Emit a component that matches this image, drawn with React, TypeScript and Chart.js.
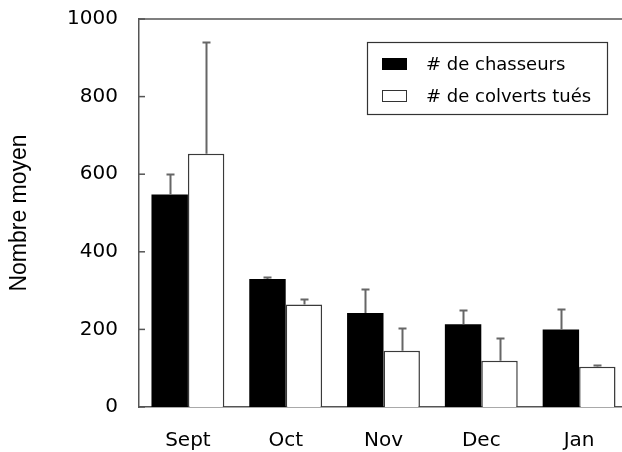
import React, { useEffect, useRef } from "react";
import { Chart, registerables } from "chart.js";

Chart.register(...registerables);

const categories = ["Sept", "Oct", "Nov", "Dec", "Jan"];
const chasseurs = [548, 330, 242, 213, 200];
const chasseursErr = [52, 6, 61, 36, 53];
const colverts = [653, 264, 145, 119, 104];
const colvertsErr = [288, 15, 59, 58, 4];
const seriesLabels = ["# de chasseurs", "# de colverts tués"];
const yTicks = [0, 200, 400, 600, 800, 1000];

const AXIS_COLOR = "#555555";

const extrasPlugin = {
  id: "extras",
  afterDatasetsDraw(chart: any) {
    const ctx = chart.ctx;
    const yScale = chart.scales.y;
    const errs = [chasseursErr, colvertsErr];
    ctx.save();
    ctx.strokeStyle = "#666666";
    ctx.lineWidth = 2;
    chart.data.datasets.forEach((ds: any, i: number) => {
      const meta = chart.getDatasetMeta(i);
      meta.data.forEach((el: any, j: number) => {
        const v = ds.data[j];
        const e = errs[i][j];
        const x = Math.round(el.x) + 0.5;
        const y0 = yScale.getPixelForValue(v);
        const y1 = Math.round(yScale.getPixelForValue(v + e)) + 0.5;
        ctx.beginPath();
        ctx.moveTo(x, y0);
        ctx.lineTo(x, y1);
        ctx.moveTo(x - 4, y1);
        ctx.lineTo(x + 4, y1);
        ctx.stroke();
      });
    });
    ctx.restore();
  },
  afterDraw(chart: any) {
    const ctx = chart.ctx;
    const area = chart.chartArea;
    const yScale = chart.scales.y;
    ctx.save();
    // top border
    ctx.strokeStyle = AXIS_COLOR;
    ctx.lineWidth = 1.5;
    ctx.beginPath();
    ctx.moveTo(area.left, area.top);
    ctx.lineTo(area.right, area.top);
    ctx.stroke();
    // inward ticks
    yTicks.forEach((t) => {
      const y = yScale.getPixelForValue(t);
      ctx.beginPath();
      ctx.moveTo(area.left, y);
      ctx.lineTo(area.left + 6, y);
      ctx.stroke();
    });
    // legend
    const bx = 367, by = 42, bw = 240, bh = 72;
    ctx.strokeStyle = "#333333";
    ctx.lineWidth = 1.2;
    ctx.fillStyle = "#ffffff";
    ctx.fillRect(bx, by, bw, bh);
    ctx.strokeRect(bx + 0.5, by + 0.5, bw, bh);
    const rows = [64, 96];
    chart.data.datasets.forEach((ds: any, i: number) => {
      const cy = rows[i];
      ctx.fillStyle = ds.backgroundColor;
      ctx.fillRect(382, cy - 6, 25, 12);
      ctx.strokeStyle = i === 0 ? "#000000" : "#333333";
      ctx.lineWidth = 1;
      ctx.strokeRect(382.5, cy - 5.5, 24, 11);
      ctx.fillStyle = "#000000";
      ctx.font = "18px 'DejaVu Sans'";
      ctx.textBaseline = "middle";
      ctx.textAlign = "left";
      ctx.fillText(ds.label, 426, cy + 1);
    });
    ctx.restore();
  },
};

export default function App() {
  const ref = useRef<HTMLCanvasElement | null>(null);
  useEffect(() => {
    document.body.style.overflow = "hidden";
    const canvas = ref.current!;
    const chart = new Chart(canvas, {
      type: "bar",
      data: {
        labels: categories,
        datasets: [
          {
            label: seriesLabels[0],
            data: chasseurs,
            backgroundColor: "#000000",
            borderColor: "#000000",
            borderWidth: 0,
            barPercentage: 1,
            categoryPercentage: 0.745,
          },
          {
            label: seriesLabels[1],
            data: colverts,
            backgroundColor: "#ffffff",
            borderColor: "#3a3a3a",
            borderWidth: 1.5,
            borderSkipped: "bottom",
            barPercentage: 1,
            categoryPercentage: 0.745,
          },
        ],
      },
      options: {
        responsive: false,
        animation: false,
        devicePixelRatio: 1,
        layout: { padding: { top: 19, right: 22, bottom: 0, left: 0 } },
        plugins: {
          legend: { display: false },
          tooltip: { enabled: false },
        },
        scales: {
          x: {
            grid: { display: false, drawTicks: false },
            border: { display: true, color: AXIS_COLOR, width: 1.5 },
            ticks: {
              color: "#000000",
              font: { family: "'DejaVu Sans'", size: 20 },
              padding: 22,
            },
            afterFit: (axis: any) => {
              axis.height = 45;
              axis.paddingLeft = 0;
              axis.paddingRight = 0;
            },
          },
          y: {
            min: 0,
            max: 1000,
            grid: { display: false, drawTicks: false },
            border: { display: true, color: AXIS_COLOR, width: 1.5 },
            ticks: {
              stepSize: 200,
              color: "#000000",
              font: { family: "'DejaVu Sans'", size: 20 },
              padding: 21,
              callback: (v: any) => String(v),
            },
            title: {
              display: true,
              text: "Nombre moyen",
              color: "#000000",
              font: { family: "'Liberation Sans'", size: 23 },
              padding: { top: 6, bottom: 0 },
            },
            afterFit: (axis: any) => {
              axis.width = 139;
              axis.paddingTop = 0;
              axis.paddingBottom = 0;
            },
          },
        },
      },
      plugins: [extrasPlugin],
    });
    return () => chart.destroy();
  }, []);
  return (
    <div
      style={{
        position: "fixed",
        left: 0,
        top: 0,
        width: 622,
        height: 452,
        overflow: "hidden",
        background: "#ffffff",
      }}
    >
      <canvas ref={ref} width={650} height={452} style={{ display: "block" }} />
    </div>
  );
}
